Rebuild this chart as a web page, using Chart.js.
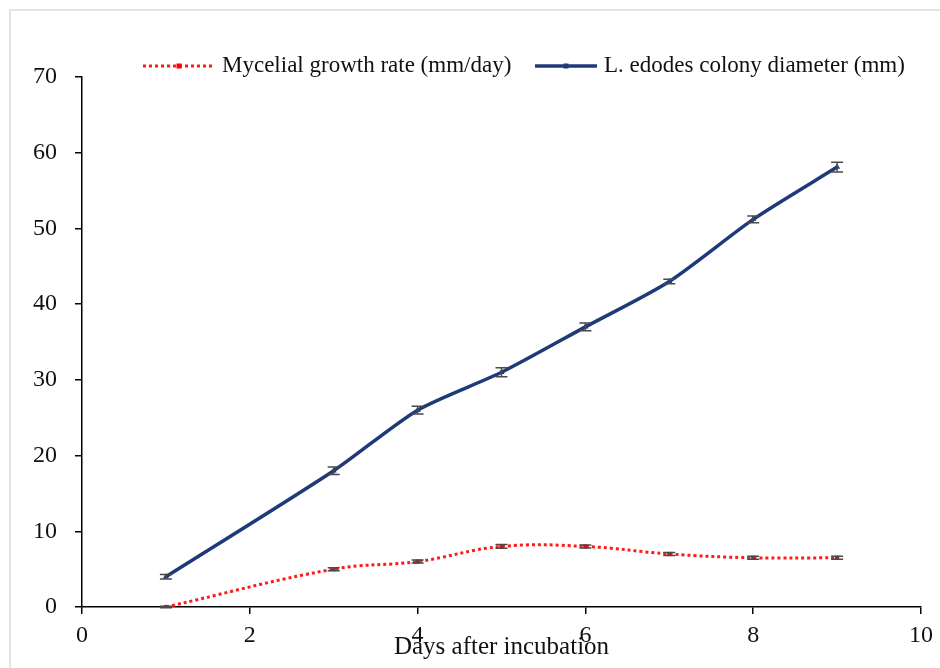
<!DOCTYPE html>
<html lang="en">
<head>
    <meta charset="UTF-8">
    <title>Mycelial growth</title>
    <script src="https://cdn.jsdelivr.net/npm/chart.js"></script>
    <style>
        html, body { margin: 0; padding: 0; background: #fff; }
        #wrap { position: relative; width: 940px; height: 668px; overflow: hidden; }
        #frame { position: absolute; left: 9px; top: 9px; width: 960px; height: 700px;
                 border-top: 2px solid #e3e3e3; border-left: 2px solid #e3e3e3; }
        canvas { position: absolute; left: 0; top: 0; }
    </style>
</head>
<body>
    <div id="wrap">
        <div id="frame"></div>
        <canvas id="growthChart" width="940" height="668"></canvas>
    </div>

    <script>
        // days after incubation
        var diamDays = [1, 3, 4, 5, 6, 7, 8, 9];
        var diameter = [4, 18, 26, 31, 37, 43, 51.2, 58.1];
        var diameterErr = [0.3, 0.5, 0.5, 0.6, 0.5, 0.3, 0.45, 0.65];

        var rateDays = [1, 3, 4, 5, 6, 7, 8, 9];
        var growthRate = [0, 5, 6, 8, 8, 7, 6.5, 6.5];
        var growthRateErr = [0.1, 0.2, 0.2, 0.25, 0.2, 0.2, 0.2, 0.2];

        var xTicks = [0, 2, 4, 6, 8, 10];

        var serif = "'Liberation Serif', 'Times New Roman', serif";

        function toPoints(xs, ys) {
            return xs.map(function (x, i) { return { x: x, y: ys[i] }; });
        }

        // error bars from the err arrays
        var errorBars = {
            id: "errorBars",
            afterDatasetsDraw: function (chart) {
                var ctx = chart.ctx;
                var xs = chart.scales.x, ys = chart.scales.y;
                chart.data.datasets.forEach(function (ds) {
                    ctx.save();
                    ctx.strokeStyle = "#4a4a4a";
                    ctx.lineWidth = 1.5;
                    ds.data.forEach(function (p, i) {
                        var e = ds.errors[i];
                        var px = xs.getPixelForValue(p.x);
                        var top = ys.getPixelForValue(p.y + e);
                        var bot = ys.getPixelForValue(p.y - e);
                        ctx.beginPath();
                        ctx.moveTo(px, top); ctx.lineTo(px, bot);
                        ctx.moveTo(px - 6, top); ctx.lineTo(px + 6, top);
                        ctx.moveTo(px - 6, bot); ctx.lineTo(px + 6, bot);
                        ctx.stroke();
                    });
                    ctx.restore();
                });
            }
        };

        // legend drawn above the plot in one row
        var topLegend = {
            id: "topLegend",
            afterDraw: function (chart) {
                var ctx = chart.ctx;
                var y = 66;
                var items = [
                    { ds: chart.data.datasets[0], x0: 143, x1: 215 },
                    { ds: chart.data.datasets[1], x0: 535, x1: 597 }
                ];
                ctx.save();
                items.forEach(function (it) {
                    var ds = it.ds;
                    ctx.strokeStyle = ds.borderColor;
                    ctx.lineWidth = ds.borderWidth;
                    ctx.setLineDash(ds.borderDash || []);
                    ctx.beginPath();
                    ctx.moveTo(it.x0, y); ctx.lineTo(it.x1, y);
                    ctx.stroke();
                    ctx.setLineDash([]);
                    ctx.fillStyle = ds.pointBackgroundColor;
                    var mx = (it.x0 + it.x1) / 2;
                    ctx.fillRect(mx - 2.5, y - 2.5, 5, 5);
                    ctx.fillStyle = "#111";
                    ctx.font = "23px " + serif;
                    ctx.textBaseline = "middle";
                    ctx.fillText(ds.label, it.x1 + 7, y);
                });
                ctx.restore();
            }
        };

        var ctx = document.getElementById("growthChart").getContext("2d");

        var chart = new Chart(ctx, {
            type: "line",
            data: {
                datasets: [
                    {
                        label: "Mycelial growth rate (mm/day)",
                        data: toPoints(rateDays, growthRate),
                        errors: growthRateErr,
                        borderColor: "#ff1a1a",
                        borderWidth: 3,
                        borderDash: [3, 3],
                        tension: 0.4,
                        pointStyle: "rect",
                        pointRadius: 3,
                        pointBackgroundColor: "#ff0000",
                        pointBorderWidth: 0,
                        fill: false
                    },
                    {
                        label: "L. edodes colony diameter (mm)",
                        data: toPoints(diamDays, diameter),
                        errors: diameterErr,
                        borderColor: "#1f3a78",
                        borderWidth: 3.5,
                        tension: 0.25,
                        pointStyle: "triangle",
                        pointRadius: 3.5,
                        pointBackgroundColor: "#1f3a78",
                        pointBorderWidth: 0,
                        fill: false
                    }
                ]
            },
            options: {
                responsive: false,
                animation: false,
                layout: { padding: { top: 77, right: 16, bottom: 6, left: 0 } },
                plugins: {
                    legend: { display: false },
                    tooltip: { enabled: false }
                },
                scales: {
                    x: {
                        type: "linear",
                        min: 0,
                        max: 10,
                        afterFit: function (s) { s.height = 55; },
                        afterBuildTicks: function (s) {
                            s.ticks = xTicks.map(function (v) { return { value: v }; });
                        },
                        border: { display: true, color: "#000", width: 1.5 },
                        grid: { drawOnChartArea: false, tickLength: 7, color: "#000", lineWidth: 1.5 },
                        ticks: { padding: 7, maxRotation: 0, color: "#111", font: { family: serif, size: 24 } },
                        title: {
                            display: true,
                            text: "Days after incubation",
                            color: "#111",
                            padding: { top: 0, bottom: 0 },
                            font: { family: serif, size: 25 }
                        }
                    },
                    y: {
                        min: 0,
                        max: 70,
                        afterFit: function (s) { s.width = 82; },
                        border: { display: true, color: "#000", width: 1.5 },
                        grid: { drawOnChartArea: false, tickLength: 7, color: "#000", lineWidth: 1.5 },
                        ticks: { stepSize: 10, padding: 18, color: "#111", font: { family: serif, size: 24 } }
                    }
                }
            },
            plugins: [errorBars, topLegend]
        });
    </script>
</body>
</html>
